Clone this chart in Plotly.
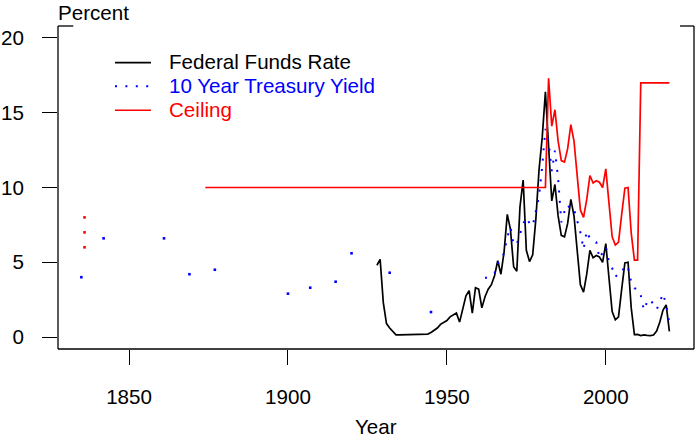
import plotly.graph_objects as go

# ---------------- data ----------------
ff_years = list(range(1928, 2021))
ff_values = [4.8, 5.2, 2.3, 0.9, 0.6, 0.35, 0.15, 0.15, 0.15, 0.2,      # 1928-1937
             0.2, 0.2, 0.2, 0.2, 0.2, 0.2, 0.2, 0.3, 0.45, 0.6,         # 1938-1947
             0.85, 1.0, 1.1, 1.35, 1.5, 1.6, 1.0, 1.8, 2.75, 3.1,       # 1948-1957
             1.6, 3.3, 3.2, 1.95, 2.7, 3.2, 3.5, 4.1, 5.1, 4.2,         # 1958-1967
             5.7, 8.2, 7.2, 4.7, 4.4, 8.7, 10.5, 5.8, 5.05, 5.5,        # 1968-1977
             7.9, 11.2, 13.35, 16.4, 12.3, 9.1, 10.2, 8.1, 6.8, 6.7,    # 1978-1987
             7.6, 9.2, 8.1, 5.7, 3.5, 3.0, 4.2, 5.8, 5.3, 5.45,         # 1988-1997
             5.35, 5.0, 6.25, 3.95, 1.7, 1.15, 1.35, 3.2, 4.95, 5.0,    # 1998-2007
             1.95, 0.16, 0.18, 0.1, 0.14, 0.11, 0.09, 0.13, 0.4, 1.0,   # 2008-2017
             1.8, 2.15, 0.38]                                           # 2018-2020

yield_early_years = [1835, 1842, 1861, 1869, 1877, 1900, 1907, 1915, 1920, 1932, 1945]
yield_early_values = [4.0, 6.6, 6.6, 4.2, 4.5, 2.9, 3.3, 3.7, 5.6, 4.3, 1.67]

yield_years = list(range(1962, 2021))
yield_values = [3.95, 4.0, 4.19, 4.28, 4.93, 5.07, 5.64, 6.67, 7.35, 6.16,      # 1962-1971
                6.21, 6.85, 7.56, 7.99, 7.61, 7.42, 8.41, 9.43, 11.43, 13.92,   # 1972-1981
                13.01, 11.10, 12.46, 10.62, 7.67, 8.39, 8.85, 8.49, 8.55, 7.86, # 1982-1991
                7.01, 5.87, 7.09, 6.57, 6.44, 6.35, 5.26, 5.65, 6.03, 5.02,     # 1992-2001
                4.61, 4.01, 4.27, 4.29, 4.80, 4.63, 3.66, 3.26, 3.22, 2.78,     # 2002-2011
                1.80, 2.35, 2.54, 2.14, 1.84, 2.33, 2.91, 2.14, 0.89]           # 2012-2020

ceiling_years = [1874, 1981] + list(range(1982, 2021))
ceiling_values = [10.0, 10.0,
                  17.3, 14.1, 15.2, 13.1, 11.8, 11.7, 12.6, 14.2, 13.1, 10.7,   # 1982-1991
                  8.5, 8.0, 9.2, 10.8, 10.3, 10.45, 10.35, 10.0, 11.25, 8.95,   # 1992-2001
                  6.7, 6.15, 6.35, 8.2, 9.95, 10.0, 6.95, 5.15, 5.15,           # 2002-2010
                  17.0, 17.0, 17.0, 17.0, 17.0, 17.0, 17.0, 17.0, 17.0, 17.0]   # 2011-2020

ceiling_early_years = [1836, 1836, 1836]
ceiling_early_values = [8.0, 7.0, 6.0]

x_ticks = [1850, 1900, 1950, 2000]
y_ticks = [0, 5, 10, 15, 20]

legend_labels = ["Federal Funds Rate", "10 Year Treasury Yield", "Ceiling"]

# ---------------- figure ----------------
FONT = "Liberation Sans, Arial, Helvetica, sans-serif"
FS = 20.6
BLUE = "#0000FF"
RED = "#FF0000"

fig = go.Figure()
fig.add_trace(go.Scatter(x=ff_years, y=ff_values, mode="lines",
                         line=dict(color="black", width=1.7), showlegend=False))
fig.add_trace(go.Scatter(x=yield_years, y=yield_values, mode="lines",
                         line=dict(color=BLUE, width=2, dash="2px,8.4px"), showlegend=False))
fig.add_trace(go.Scatter(x=yield_early_years, y=yield_early_values, mode="markers",
                         marker=dict(color=BLUE, size=2.6, symbol="square", line=dict(width=0)),
                         showlegend=False))
fig.add_trace(go.Scatter(x=ceiling_years, y=ceiling_values, mode="lines",
                         line=dict(color=RED, width=1.7), showlegend=False))
fig.add_trace(go.Scatter(x=ceiling_early_years, y=ceiling_early_values, mode="markers",
                         marker=dict(color=RED, size=2.6, symbol="square", line=dict(width=0)),
                         showlegend=False))

L, R, T, B = 58, 4, 25.5, 87.5
W, H = 698, 437
pw, ph = W - L - R, H - T - B

def px_x(px):
    return (px - L) / pw

def px_y(py):
    return (H - B - py) / ph

shapes = []
box = dict(type="line", xref="paper", yref="paper", line=dict(color="black", width=1.3))
shapes.append(dict(box, x0=0, x1=0, y0=0, y1=1))
shapes.append(dict(box, x0=0, x1=1, y0=0, y1=0))
shapes.append(dict(box, x0=1, x1=1, y0=0, y1=1))
shapes.append(dict(box, x0=0, x1=px_x(73.3), y0=1, y1=1))
shapes.append(dict(box, x0=px_x(680), x1=1, y0=1, y1=1))

# manual legend
leg_rows = [62.3, 86.0, 110.0]
leg_colors = ["black", BLUE, RED]
leg_dash = ["solid", "2px,8.4px", "solid"]
leg_width = [1.7, 2, 1.7]
annotations = []
for lab, yy, c, d, w in zip(legend_labels, leg_rows, leg_colors, leg_dash, leg_width):
    shapes.append(dict(type="line", xref="paper", yref="paper",
                       x0=px_x(115), x1=px_x(151), y0=px_y(yy), y1=px_y(yy),
                       line=dict(color=c, width=w, dash=d)))
    annotations.append(dict(text=lab, xref="paper", yref="paper", x=px_x(167), y=px_y(yy - 1),
                            xanchor="left", yanchor="middle", showarrow=False,
                            font=dict(family=FONT, size=FS, color=c)))

annotations.append(dict(text="Percent", xref="paper", yref="paper", x=px_x(56), y=px_y(12),
                        xanchor="left", yanchor="middle", showarrow=False,
                        font=dict(family=FONT, size=FS, color="black")))
annotations.append(dict(text="Year", xref="paper", yref="paper", x=0.5, y=px_y(427),
                        xanchor="center", yanchor="middle", showarrow=False,
                        font=dict(family=FONT, size=FS, color="black")))

fig.update_layout(
    width=W, height=H,
    margin=dict(l=L, r=R, t=T, b=B, pad=0),
    paper_bgcolor="white", plot_bgcolor="white",
    font=dict(family=FONT, size=FS, color="black"),
    shapes=shapes, annotations=annotations,
    showlegend=False,
)
fig.update_xaxes(range=[1827.65, 2027.75], tickvals=x_ticks, ticktext=[str(v) for v in x_ticks],
                 ticks="outside", ticklen=15, tickwidth=1.3, tickcolor="black",
                 showgrid=False, zeroline=False, showline=False, automargin=False,
                 tickfont=dict(family=FONT, size=FS, color="black"), ticklabelstandoff=14)
fig.update_yaxes(range=[-0.8, 20.8], tickvals=y_ticks, ticktext=[str(v) for v in y_ticks],
                 ticks="outside", ticklen=15, tickwidth=1.3, tickcolor="black",
                 showgrid=False, zeroline=False, showline=False, automargin=False,
                 tickfont=dict(family=FONT, size=FS, color="black"), ticklabelstandoff=14)

fig.write_html("out.html", config={"displayModeBar": False},
               post_script="document.body.style.margin='0px';document.body.style.overflow='hidden';")
